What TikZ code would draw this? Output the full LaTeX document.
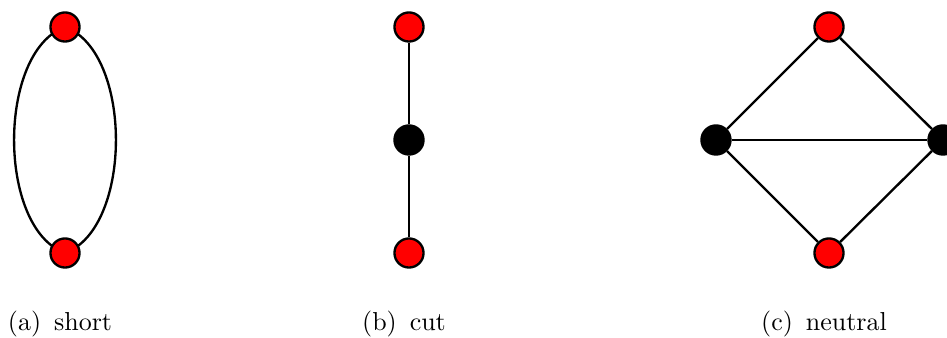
\documentclass[tikz,border=0pt]{standalone}
\usepackage{tikz}
\usetikzlibrary{positioning,backgrounds}
\tikzset{
  % --- nodes
  vtx/.style     = {circle, draw=black, line width=0.9pt, inner sep=0pt,
                    minimum size=11.2pt},
  termvtx/.style = {vtx, fill=red},
  midvtx/.style  = {vtx, fill=black},
  sublbl/.style  = {anchor=base, font=\normalsize},
  % --- edges
  e/.style       = {draw=black, line width=0.9pt},
}
\begin{document}
\begin{tikzpicture}[x=0.385pt,y=0.385pt]
  \useasboundingbox (0,0) rectangle (947,338);

  % (a) short
  \node[termvtx] (a1) at (65,311) {};
  \node[termvtx] (a2) at (65,85) {};
  \begin{scope}[on background layer]
    \draw[e] (a1.center) to[out=-160, in=160, looseness=0.82] (a2.center);
    \draw[e] (a1.center) to[out=-20, in=20, looseness=0.82] (a2.center);
  \end{scope}
  \node[sublbl] (capa) at (60,7) {(a)\, short};

  % (b) cut
  \node[termvtx] (b1) at (409,311) {};
  \node[midvtx]  (b2) at (409,198) {};
  \node[termvtx] (b3) at (409,85) {};
  \draw[e] (b1) -- (b2) -- (b3);
  \node[sublbl] (capb) at (404,7) {(b)\, cut};

  % (c) neutral
  \node[termvtx] (c1) at (829,311) {};
  \node[midvtx]  (c2) at (716,198) {};
  \node[midvtx]  (c3) at (943,198) {};
  \node[termvtx] (c4) at (829,85) {};
  \draw[e] (c1) -- (c2) -- (c4) -- (c3) -- (c1);
  \draw[e] (c2) -- (c3);
  \node[sublbl] (capc) at (824,7) {(c)\, neutral};
\end{tikzpicture}
\end{document}
